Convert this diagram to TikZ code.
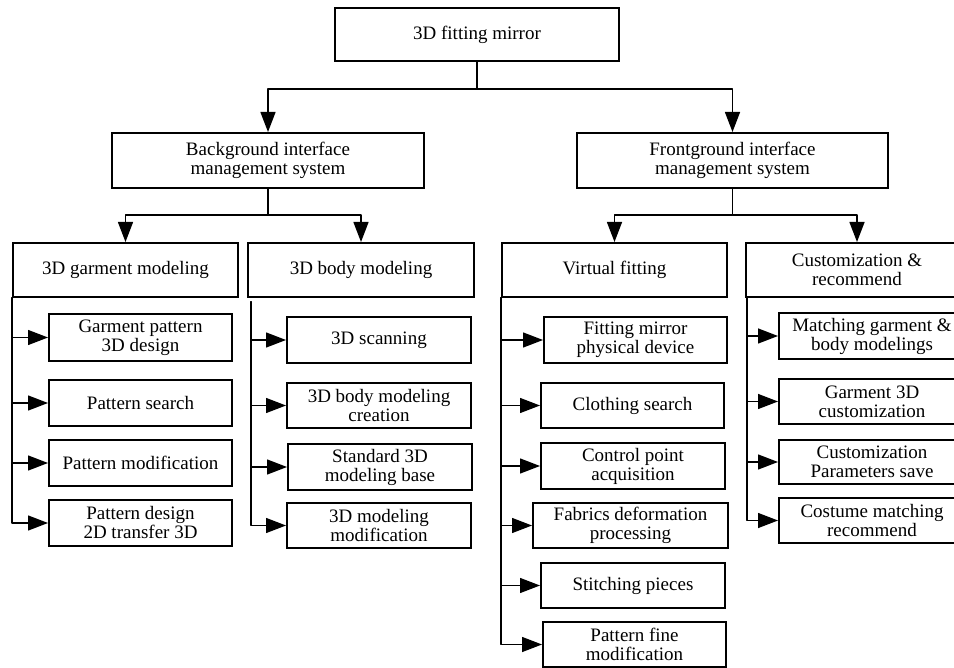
\documentclass[tikz,border=0pt]{standalone}
\usepackage{fontspec}
\setmainfont{Liberation Serif}
\usepackage{tikz}
\usetikzlibrary{arrows.meta}
\tikzstyle{every node}=[font=\fontsize{19}{19}\selectfont]
\tikzstyle{box}=[draw,line width=2pt,line join=miter,inner sep=0pt,align=center]
\tikzstyle{link}=[line width=1.4pt,->]

\begin{document}
\begin{tikzpicture}[line cap=round,line join=round,>={Triangle[length=20pt,width=15pt]},x=1.0pt,y=-1.0pt]
        \useasboundingbox (0,0) rectangle (954,668);
        \clip (0,0) rectangle (954,668);
        % top levels
        \node[box,minimum width=284pt,minimum height=53pt] (top) at (477,34.5) {3D fitting mirror};
        \node[box,minimum width=312pt,minimum height=55pt] (bg) at (268,160.5) {Background interface\\management system};
        \node[box,minimum width=311pt,minimum height=55pt] (fg) at (732.5,160.5) {Frontground interface\\management system};
        \node[box,minimum width=225pt,minimum height=54pt] (garm) at (125.5,270) {3D garment modeling};
        \node[box,minimum width=226pt,minimum height=54pt] (body) at (361,270) {3D body modeling};
        \node[box,minimum width=225pt,minimum height=54pt] (virt) at (614.5,270) {Virtual fitting};
        \node[box,minimum width=222pt,minimum height=54pt] (cust) at (857,270) {Customization \&\\recommend};
        % garment modeling
        \node[box,minimum width=183pt,minimum height=47pt] (g1) at (140.5,337.5) {Garment pattern\\3D design};
        \node[box,minimum width=183pt,minimum height=46pt] (g2) at (140.5,403) {Pattern search};
        \node[box,minimum width=183pt,minimum height=46pt] (g3) at (140.5,463) {Pattern modification};
        \node[box,minimum width=183pt,minimum height=46pt] (g4) at (140.5,523) {Pattern design\\2D transfer 3D};
        % body modeling
        \node[box,minimum width=184pt,minimum height=46pt] (b1) at (379,340) {3D scanning};
        \node[box,minimum width=184pt,minimum height=45pt] (b2) at (379,405.5) {3D body modeling\\creation};
        \node[box,minimum width=184pt,minimum height=46pt] (b3) at (380,467) {Standard 3D\\modeling base};
        \node[box,minimum width=184pt,minimum height=45pt] (b4) at (379,525.5) {3D modeling\\modification};
        % virtual fitting
        \node[box,minimum width=183pt,minimum height=46pt] (v1) at (635.5,340) {Fitting mirror\\physical device};
        \node[box,minimum width=183pt,minimum height=45pt] (v2) at (632.5,405.5) {Clothing search};
        \node[box,minimum width=184pt,minimum height=46pt] (v3) at (633,466) {Control point\\acquisition};
        \node[box,minimum width=195pt,minimum height=45pt] (v4) at (630.5,525.5) {Fabrics deformation\\processing};
        \node[box,minimum width=184pt,minimum height=45pt] (v5) at (633,585.5) {Stitching pieces};
        \node[box,minimum width=183pt,minimum height=45pt] (v6) at (634.5,644.5) {Pattern fine\\modification};
        % customization
        \node[box,minimum width=186pt,minimum height=46pt] (c1) at (872,336) {Matching garment \&\\body modelings};
        \node[box,minimum width=186pt,minimum height=45pt] (c2) at (872,401.5) {Garment 3D\\customization};
        \node[box,minimum width=186pt,minimum height=44pt] (c3) at (872,462) {Customization\\Parameters save};
        \node[box,minimum width=186pt,minimum height=45pt] (c4) at (872,520.5) {Costume matching\\recommend};
        \coordinate (bt) at ([xshift=4pt,yshift=-4pt]body.south west);
        % connectors
        \draw[link] (top.south) -- ++(0,27) -| (bg.north);
        \draw[link] (top.south) -- ++(0,27) -| (fg.north);
        \draw[link] (bg.south) -- ++(0,26) -| (garm.north);
        \draw[link] (bg.south) -- ++(0,26) -| (body.north);
        \draw[link] (fg.south) -- ++(0,26) -| (virt.north);
        \draw[link] (fg.south) -- ++(0,26) -| (cust.north);
        \draw[link] (garm.south west) |- (g1.west);
        \draw[link] (garm.south west) |- (g2.west);
        \draw[link] (garm.south west) |- (g3.west);
        \draw[link] (garm.south west) |- (g4.west);
        \draw[link] (bt) |- (b1.west);
        \draw[link] (bt) |- (b2.west);
        \draw[link] (bt) |- (b3.west);
        \draw[link] (bt) |- (b4.west);
        \draw[link] (virt.south west) |- (v1.west);
        \draw[link] (virt.south west) |- (v2.west);
        \draw[link] (virt.south west) |- (v3.west);
        \draw[link] (virt.south west) |- (v4.west);
        \draw[link] (virt.south west) |- (v5.west);
        \draw[link] (virt.south west) |- (v6.west);
        \draw[link] ([xshift=2pt]cust.south west) |- (c1.west);
        \draw[link] ([xshift=2pt]cust.south west) |- (c2.west);
        \draw[link] ([xshift=2pt]cust.south west) |- (c3.west);
        \draw[link] ([xshift=2pt]cust.south west) |- (c4.west);
\end{tikzpicture}
\end{document}
